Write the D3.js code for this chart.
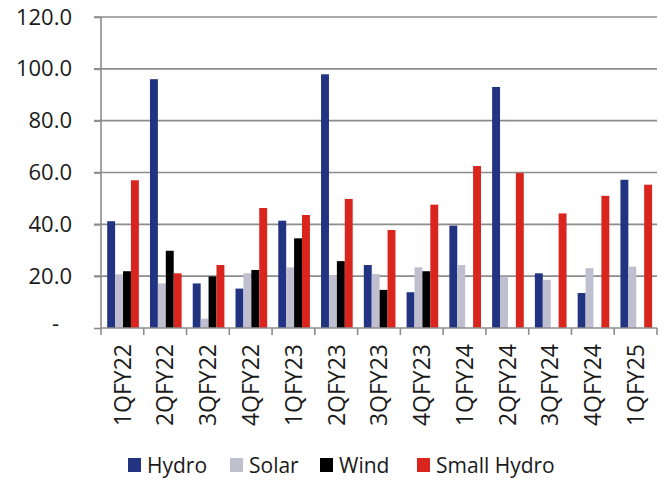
<!DOCTYPE html>
<html>
<head>
<meta charset="utf-8">
<script src="https://cdn.jsdelivr.net/npm/d3@7"></script>
<style>
  html, body { margin: 0; padding: 0; background: #fff; }
  svg { display: block; font-family: "Open Sans", "Noto Sans", sans-serif; }
</style>
</head>
<body>
<svg id="chart" width="668" height="480"></svg>
<script>
// Quarterly generation by segment
const quarters = ["1QFY22","2QFY22","3QFY22","4QFY22","1QFY23","2QFY23","3QFY23","4QFY23","1QFY24","2QFY24","3QFY24","4QFY24","1QFY25"];
const seriesNames = ["Hydro","Solar","Wind","Small Hydro"];
const hydro      = [41.2, 96.0, 17.2, 15.2, 41.4, 97.9, 24.3, 13.8, 39.5, 93.0, 21.1, 13.5, 57.2];
const solar      = [20.7, 17.2,  3.6, 21.1, 23.4, 20.3, 20.8, 23.4, 24.3, 19.8, 18.6, 23.1, 23.7];
const wind       = [21.9, 29.8, 19.9, 22.4, 34.6, 25.8, 14.7, 21.9, null, null, null, null, null];
const smallHydro = [57.0, 21.1, 24.3, 46.3, 43.6, 49.8, 37.8, 47.6, 62.5, 59.8, 44.2, 51.0, 55.3];
const yTicks = [0, 20, 40, 60, 80, 100, 120];
const colors = ["#223382", "#bfbfcf", "#000000", "#d9251d"];

const seriesValues = [hydro, solar, wind, smallHydro];

const svg = d3.select("#chart");
const margin = { left: 101, right: 11, top: 17, bottom: 152 };
const W = 668, H = 480;
const plotW = W - margin.left - margin.right;
const plotH = H - margin.top - margin.bottom;

const x0 = d3.scaleBand().domain(quarters).range([0, plotW]).paddingInner(0).paddingOuter(0);
const x1 = d3.scaleBand().domain(seriesNames)
  .range([x0.bandwidth() * 0.145, x0.bandwidth() * 0.885]).padding(0);
const y = d3.scaleLinear().domain([0, 120]).range([plotH, 0]);

const g = svg.append("g").attr("transform", `translate(${margin.left},${margin.top})`);

// horizontal gridlines with short ticks left of the axis
g.append("g")
  .selectAll("line")
  .data(yTicks.filter(d => d > 0))
  .join("line")
  .attr("x1", -7).attr("x2", plotW)
  .attr("y1", d => y(d)).attr("y2", d => y(d))
  .attr("stroke", "#8c8c8c").attr("stroke-width", 1.6);

// bars
const groups = g.append("g")
  .selectAll("g")
  .data(quarters)
  .join("g")
  .attr("transform", d => `translate(${x0(d)},0)`);

groups.selectAll("rect")
  .data((q, i) => seriesNames.map((s, k) => ({ s, v: seriesValues[k][i], c: colors[k] })))
  .join("rect")
  .filter(d => d.v != null)
  .attr("x", d => x1(d.s))
  .attr("width", x1.bandwidth())
  .attr("y", d => y(d.v))
  .attr("height", d => plotH - y(d.v))
  .attr("fill", d => d.c);

// y axis
const yAxis = d3.axisLeft(y).tickValues(yTicks).tickSize(7).tickPadding(22)
  .tickFormat(d => d === 0 ? "-" : d3.format(".1f")(d));
const ya = g.append("g").call(yAxis);
ya.select(".domain").attr("stroke", "#8c8c8c").attr("stroke-width", 1.6).attr("d", `M0,0V${plotH}`);
ya.selectAll(".tick line").attr("stroke", "#8c8c8c").attr("stroke-width", 1.6);
ya.selectAll(".tick text")
  .attr("fill", "#1a1a1a")
  .style("font-size", "22px")
  .style("font-family", "'Open Sans', sans-serif");
ya.selectAll(".tick").filter(d => d === 0).select("text").attr("x", -42).attr("dy", "0.1em");

// x axis with ticks at group boundaries
const xa = g.append("g").attr("transform", `translate(0,${plotH})`);
xa.append("line").attr("x1", 0).attr("x2", plotW).attr("stroke", "#8c8c8c").attr("stroke-width", 1.6);
xa.selectAll("line.tk")
  .data(d3.range(quarters.length + 1))
  .join("line").attr("class", "tk")
  .attr("x1", i => i * x0.step()).attr("x2", i => i * x0.step())
  .attr("y1", 0).attr("y2", 7)
  .attr("stroke", "#8c8c8c").attr("stroke-width", 1.6);
xa.selectAll("text")
  .data(quarters)
  .join("text")
  .attr("transform", d => `translate(${x0(d) + x0.bandwidth() / 2},16) rotate(-90)`)
  .attr("text-anchor", "end")
  .attr("dy", "0.36em")
  .attr("fill", "#1a1a1a")
  .style("font-size", "23px")
  .text(d => d);

// legend
const legendX = [128, 230, 320, 417];
const lg = svg.append("g").attr("transform", "translate(0,458)");
const items = lg.selectAll("g").data(seriesNames).join("g")
  .attr("transform", (d, i) => `translate(${legendX[i]},0)`);
items.append("rect").attr("width", 13).attr("height", 14).attr("fill", (d, i) => colors[i]);
items.append("text").attr("x", 19).attr("y", 15)
  .attr("fill", "#1a1a1a").style("font-size", "21px").text(d => d);
</script>
</body>
</html>
